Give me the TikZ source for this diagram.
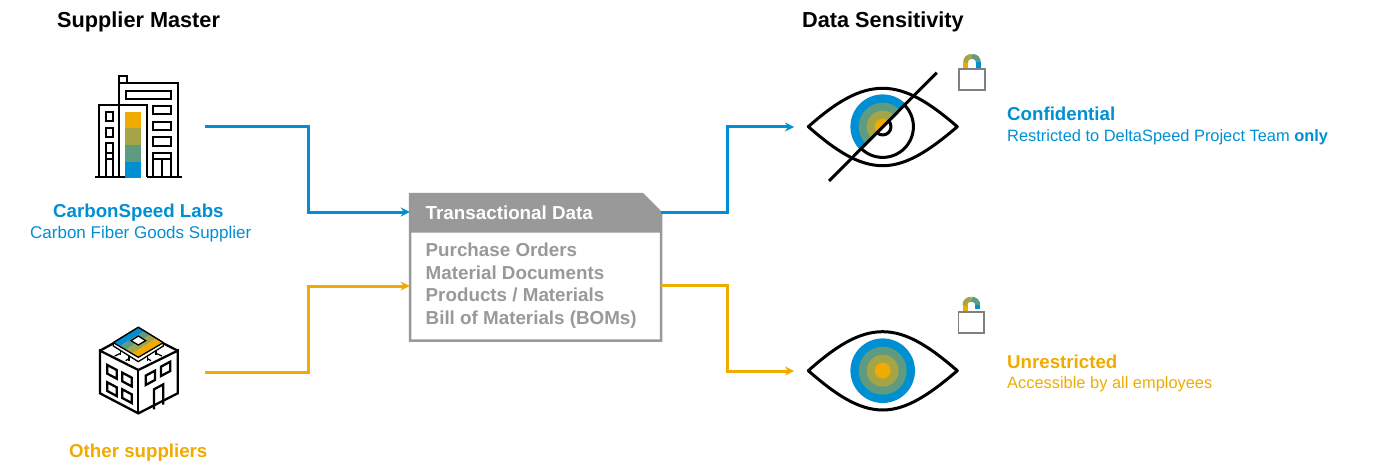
\documentclass[tikz,border=0pt]{standalone}
\usepackage{fontspec}
\setmainfont{Liberation Sans}
\definecolor{cblue}{HTML}{008FD3}
\definecolor{cgreen}{HTML}{5F9B80}
\definecolor{colive}{HTML}{A5A548}
\definecolor{cgold}{HTML}{F0AB00}
\definecolor{cgray}{HTML}{999999}
\usetikzlibrary{arrows.meta}
\tikzset{
  heading/.style={anchor=base west,inner sep=0,font=\bfseries\fontsize{21.7}{24}\selectfont,text=black},
  namebold/.style={anchor=base west,inner sep=0,font=\bfseries\fontsize{18.7}{21}\selectfont},
  subtext/.style={anchor=base west,inner sep=0,font=\fontsize{16.4}{18}\selectfont},
  itemtext/.style={anchor=base west,inner sep=0,text=cgray,font=\bfseries\fontsize{18.8}{22}\selectfont},
  icon/.style={line width=2.3pt,draw=black,line join=miter},
  thinicon/.style={line width=1.3pt,draw=black,line join=miter},
  eyeline/.style={line width=3pt,draw=black,line join=round},
  conn/.style={line width=3pt,-{Stealth[length=9pt,width=9pt]}},
  lockbody/.style={line width=1.6pt,draw=black!50,fill=white},
}
\begin{document}
\begin{tikzpicture}[x=1pt,y=-1pt]
\useasboundingbox (0,0) rectangle (1380,473);
% headings
\node[heading] (h1) at (57,28) {Supplier Master};
\node[heading] (h2) at (802,28) {Data Sensitivity};
% building icon 1 (coordinates from a 3x crop)
\begin{scope}[shift={(80,60)},x=0.33333pt,y=-0.33333pt]
  \fill[cgold] (136,155) rectangle (182,205);
  \fill[colive] (136,205) rectangle (182,255);
  \fill[cgreen] (136,255) rectangle (182,305);
  \fill[cblue] (136,305) rectangle (182,355);
  \draw[icon] (118,135) -- (118,70) -- (295,70) -- (295,352);
  \draw[icon] (118,70) -- (118,48) -- (140,48) -- (140,70);
  \draw[icon] (138,92) rectangle (272,118);
  \draw[icon] (118,352) -- (118,135) -- (200,135) -- (200,352);
  \draw[icon] (58,352) -- (58,135) -- (118,135);
  \draw[icon] (45,352) -- (135,352);
  \draw[icon] (200,352) -- (307,352);
  \draw[icon] (220,138) rectangle (272,163);
  \draw[icon] (220,185) rectangle (272,210);
  \draw[icon] (220,232) rectangle (272,257);
  \draw[icon] (220,352) -- (220,280) -- (272,280) -- (272,352);
  \draw[icon] (220,298) -- (272,298) (245,298) -- (245,352);
  \draw[icon] (78,157) rectangle (100,183);
  \draw[icon] (78,204) rectangle (100,231);
  \draw[icon] (78,352) -- (78,250) -- (100,250) -- (100,352);
  \draw[icon] (78,278) -- (100,278) (78,297) -- (100,297);
\end{scope}
% building icon 2
\begin{scope}[shift={(80,320)},x=0.33333pt,y=-0.33333pt]
  \draw[icon] (60,92) -- (175,150) -- (293,92) -- (293,220) -- (175,280) -- (60,220) -- cycle;
  \draw[icon] (175,150) -- (175,280);
  \draw[icon] (60,92) -- (100,70) (293,92) -- (250,70);
  \foreach \xa/\ya in {82/135,127/158,82/187,127/208}
    \draw[icon] (\xa,\ya) -- ++(28,15) -- ++(0,26) -- ++(-28,-15) -- cycle;
  \draw[icon] (197,167) -- ++(28,-15) -- ++(0,28) -- ++(-28,15) -- cycle;
  \draw[icon] (243,140) -- ++(28,-15) -- ++(0,28) -- ++(-28,15) -- cycle;
  \draw[icon] (222,268) -- (222,208) -- (250,193) -- (250,254);
  \draw[thinicon,fill=white] (100,68) -- (100,78) -- (175,125) -- (250,78) -- (250,68) -- (175,22) -- cycle;
  \foreach \xa/\ya in {122/92,147/108,203/108,228/92}
    \draw[thinicon] (\xa,\ya) -- ++(0,14);
  \draw[thinicon] (122,100) -- ++(-18,8) (147,116) -- ++(-10,6) (203,116) -- ++(10,6) (228,100) -- ++(18,8);
  \fill[cblue] (100,68) -- (175,22) -- (194,33) -- (119,79) -- cycle;
  \fill[cgreen] (119,79) -- (194,33) -- (212,44) -- (137,90) -- cycle;
  \fill[colive] (137,90) -- (212,44) -- (231,55) -- (156,101) -- cycle;
  \fill[cgold] (156,101) -- (231,55) -- (250,68) -- (175,112) -- cycle;
  \draw[thinicon] (100,68) -- (175,22) -- (250,68);
  \draw[thinicon] (100,68) -- (175,112) -- (250,68);
  \draw[thinicon,fill=white] (175,48) -- (197,62) -- (175,75) -- (153,62) -- cycle;
\end{scope}
% labels left
\node[namebold,text=cblue] (lab1) at (53,217) {CarbonSpeed Labs};
\node[subtext,text=cblue,font=\fontsize{17}{18}\selectfont] (lab1s) at (30,238) {Carbon Fiber Goods Supplier};
\node[namebold,text=cgold] (lab2) at (69,457) {Other suppliers};
% transactional box
\path[fill=white,draw=cgray,line width=2.5pt] (410,194) -- (642.3,194) -- (661,212.7) -- (661,340.7) -- (410,340.7) -- cycle;
\fill[cgray] (410,194) -- (642.3,194) -- (661,212.7) -- (661,232.7) -- (410,232.7) -- cycle;
\node[inner sep=0,minimum width=251pt,minimum height=146.7pt] (box) at (535.5,267.35) {};
\node[itemtext,text=white] (t0) at (425.5,219) {Transactional Data};
\node[itemtext] (t1) at (425.5,256) {Purchase Orders};
\node[itemtext] (t2) at (425.5,279) {Material Documents};
\node[itemtext] (t3) at (425.5,301.5) {Products / Materials};
\node[itemtext] (t4) at (425.5,324) {Bill of Materials (BOMs)};
% connector ends
\coordinate (labsout) at (205,127);
\coordinate (otherout) at (205,372);
\coordinate (confin) at (794,127);
\coordinate (unrin) at (794,371);
\coordinate (boxA) at (box.west |- 0,212);
\coordinate (boxB) at (box.west |- 0,286);
\coordinate (boxC) at (box.east |- 0,212);
\coordinate (boxD) at (box.east |- 0,285);
\draw[conn,cblue] (labsout) -- (308,127) -- (308,212) -- (boxA);
\draw[conn,cgold] (otherout) -- (308,372) -- (308,286) -- (boxB);
\draw[conn,cblue] (boxC) -- (727,212) -- (727,127) -- (confin);
\draw[conn,cgold] (boxD) -- (727,285) -- (727,371) -- (unrin);
% eye 1 slashed
\begin{scope}
  \clip (829,181) -- (936.7,72.7) -- (700,72.7) -- (700,181) -- cycle;
  \fill[cblue] (882.7,126.7) circle (32.3pt);
  \fill[cgreen] (882.7,126.7) circle (24pt);
  \fill[colive] (882.7,126.7) circle (16pt);
  \fill[cgold] (882.7,126.7) circle (8pt);
\end{scope}
\begin{scope}
  \clip (829,181) -- (936.7,72.7) -- (1000,72.7) -- (1000,181) -- cycle;
  \draw[eyeline] (882.7,126.7) circle (30.7pt);
  \draw[eyeline] (882.7,126.7) circle (8.3pt);
\end{scope}
\draw[eyeline] (808.3,126.7) .. controls (835,103) and (858,88.3) .. (882.7,88.3) .. controls (907,88.3) and (930,103) .. (957.3,126.7) .. controls (930,150) and (907,165.7) .. (882.7,165.7) .. controls (858,165.7) and (835,150) .. (808.3,126.7) -- cycle;
\draw[eyeline] (829,181) -- (936.7,72.7);
% eye 2
\fill[cblue] (882.7,370.7) circle (32.3pt);
\fill[cgreen] (882.7,370.7) circle (24pt);
\fill[colive] (882.7,370.7) circle (16pt);
\fill[cgold] (882.7,370.7) circle (8pt);
\draw[eyeline] (808.3,370.7) .. controls (835,347) and (858,331.7) .. (882.7,331.7) .. controls (907,331.7) and (930,347) .. (957.3,370.7) .. controls (930,394) and (907,410) .. (882.7,410) .. controls (858,410) and (835,394) .. (808.3,370.7) -- cycle;
% lock 1
\begin{scope}[line width=5pt]
  \draw[cgold] (965.7,69) -- (965.7,62);
  \draw[colive] (965.7,62.5) .. controls (965.7,58.5) and (968,56.5) .. (972,56.5);
  \draw[cgreen] (972,56.5) .. controls (976,56.5) and (978.3,58.5) .. (978.3,62.5);
  \draw[cblue] (978.3,62) -- (978.3,69);
\end{scope}
\draw[lockbody] (959,69) rectangle (984.7,90);
% lock 2
\begin{scope}[line width=5pt]
  \draw[cgold] (965,311.7) -- (965,305);
  \draw[colive] (965,305.5) .. controls (965,301.5) and (967.3,299.3) .. (971.3,299.3);
  \draw[cgreen] (971.3,299.3) .. controls (975.3,299.3) and (977.7,301.5) .. (977.7,305.5);
  \draw[cblue] (977.7,305) -- (977.7,308.5);
\end{scope}
\draw[lockbody] (958.3,311.7) rectangle (983.7,332.7);
% labels right
\node[namebold,text=cblue] (c1) at (1007,121) {Confidential};
\node[subtext,text=cblue] (c2) at (1007,141.5) {Restricted to DeltaSpeed Project Team \textbf{only}};
\node[namebold,text=cgold] (u1) at (1007,368) {Unrestricted};
\node[subtext,text=cgold] (u2) at (1007,388.5) {Accessible by all employees};
\end{tikzpicture}
\end{document}
